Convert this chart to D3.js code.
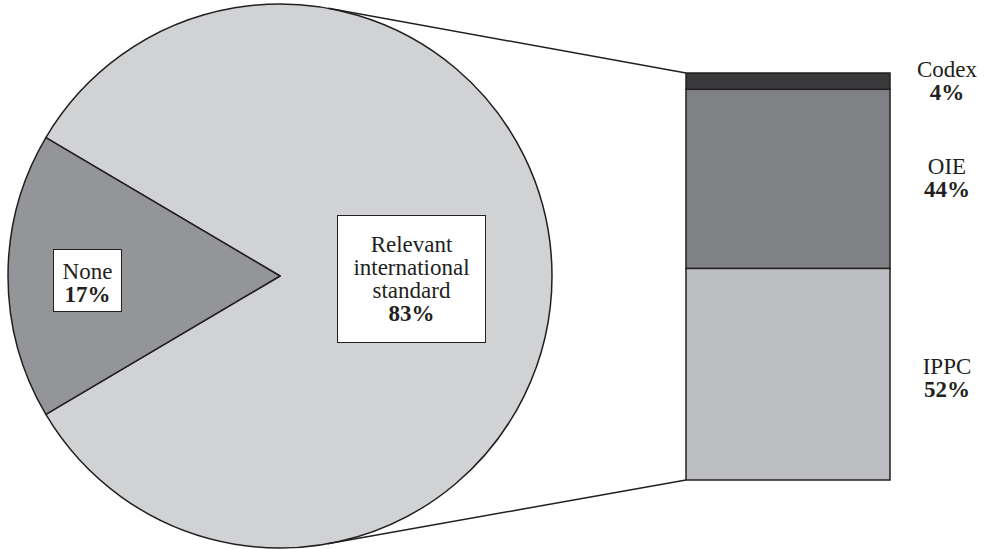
<!DOCTYPE html>
<html><head><meta charset="utf-8">
<script src="https://cdn.jsdelivr.net/npm/d3@7"></script>
<style>body{margin:0;background:#fff}svg{display:block}</style>
</head><body>
<svg id="c" width="986" height="549"></svg>
<script>
const pieLabels = ["Relevant international standard", "None"];
const pieValues = [83, 17];
const pieColors = ["#d1d2d4", "#939598"];
const barLabels = ["IPPC", "OIE", "Codex"];
const barValues = [52, 44, 4];
const barColors = ["#bcbdc0", "#808184", "#3a3a3c"];

const svg = d3.select("#c");
const stroke = "#231f20";
const cx = 280, cy = 276, r = 272;
const barX = 686, barW = 204, barTop = 73, barBot = 480;
const font = "'Liberation Serif','Times New Roman',serif";
const fs = 23;
const lh = 23;

function tangent(px, py, sign) {
  const dx = px - cx, dy = py - cy, d = Math.hypot(dx, dy);
  const th = Math.atan2(dy, dx), a = Math.acos(r / d);
  const t = th + sign * a;
  return [cx + r * Math.cos(t), cy + r * Math.sin(t)];
}
const t1 = tangent(barX, barTop, -1), t2 = tangent(barX, barBot, 1);

// pie
const pie = d3.pie().sort(null).startAngle(-0.33 * Math.PI).endAngle(1.67 * Math.PI);
const arcs = pie(pieValues);
const arc = d3.arc().innerRadius(0).outerRadius(r);
const g = svg.append("g").attr("transform", `translate(${cx},${cy})`);
g.selectAll("path").data(arcs).join("path")
  .attr("d", arc).attr("fill", (d, i) => pieColors[i])
  .attr("stroke", stroke).attr("stroke-width", 1.5).attr("stroke-linejoin", "round");

svg.append("line").attr("x1", t1[0]).attr("y1", t1[1]).attr("x2", barX).attr("y2", barTop)
  .attr("stroke", stroke).attr("stroke-width", 1.5);
svg.append("line").attr("x1", t2[0]).attr("y1", t2[1]).attr("x2", barX).attr("y2", barBot)
  .attr("stroke", stroke).attr("stroke-width", 1.5);

function boxLabel(x0, y0, w, h, lines, baseline0) {
  svg.append("rect").attr("x", x0).attr("y", y0).attr("width", w).attr("height", h)
    .attr("fill", "#fff").attr("stroke", stroke).attr("stroke-width", 1);
  lines.forEach((l, i) => {
    svg.append("text").attr("x", x0 + w / 2).attr("y", baseline0 + i * lh)
      .attr("text-anchor", "middle").attr("font-family", font).attr("font-size", fs)
      .attr("font-weight", l.b ? "bold" : "normal").attr("fill", "#231f20").text(l.t);
  });
}
boxLabel(337.5, 215.5, 148, 127, [
  {t: "Relevant"}, {t: "international"}, {t: "standard"}, {t: pieValues[0] + "%", b: true}
], 252);
boxLabel(53.5, 249.5, 68, 62, [{t: pieLabels[1]}, {t: pieValues[1] + "%", b: true}], 279);

// bar
const y = d3.scaleLinear().domain([0, 100]).range([barBot, barTop]);
let acc = 0;
const segs = barValues.map((v, i) => { const s = {i, v, y0: acc, y1: acc + v}; acc += v; return s; });
svg.selectAll("rect.seg").data(segs).join("rect").attr("class", "seg")
  .attr("x", barX).attr("width", barW)
  .attr("y", d => y(d.y1)).attr("height", d => y(d.y0) - y(d.y1))
  .attr("fill", d => barColors[d.i]).attr("stroke", stroke).attr("stroke-width", 1.5);

const lblOff = [0, -5, -4];
segs.forEach(d => {
  const mid = (y(d.y0) + y(d.y1)) / 2 + lblOff[d.i];
  svg.append("text").attr("x", 947).attr("y", mid).attr("text-anchor", "middle")
    .attr("font-family", font).attr("font-size", fs).attr("fill", "#231f20").text(barLabels[d.i]);
  svg.append("text").attr("x", 947).attr("y", mid + lh).attr("text-anchor", "middle")
    .attr("font-family", font).attr("font-size", fs).attr("font-weight", "bold")
    .attr("fill", "#231f20").text(d.v + "%");
});
</script>
</body></html>
